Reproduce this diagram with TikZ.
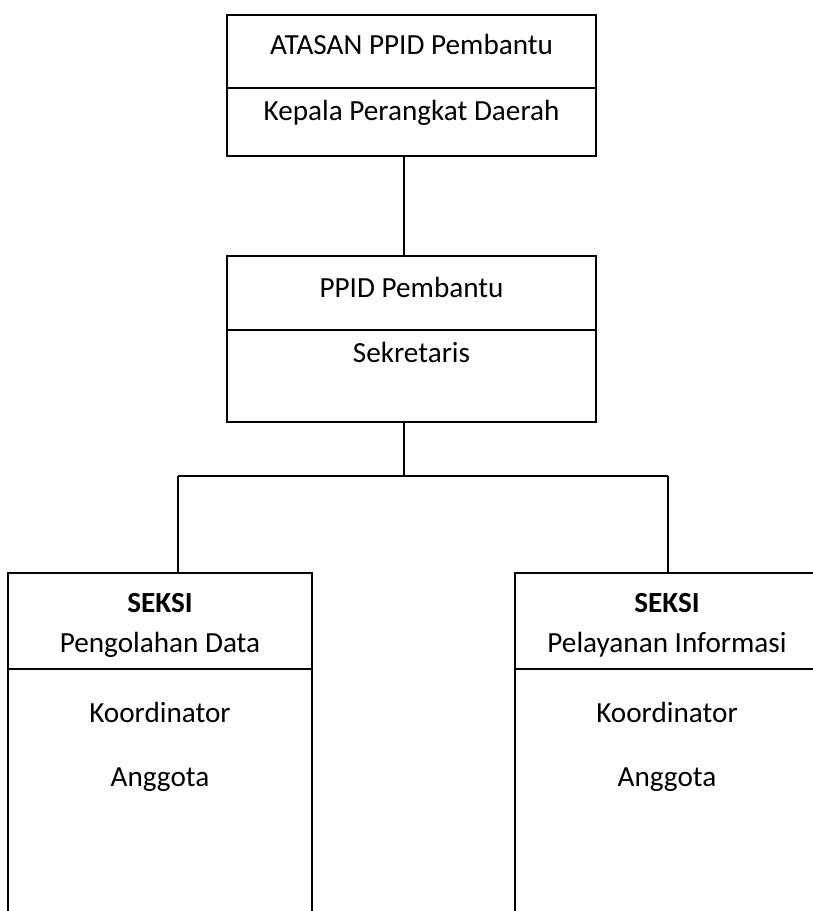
\documentclass[tikz,border=0pt]{standalone}
\usepackage{fontspec}
\setmainfont{Carlito}
\begin{document}
\begin{tikzpicture}[x=0.5pt, y=-0.5pt, font=\fontsize{14.6}{17}\selectfont,
    unitbox/.style={draw, line width=1pt, inner sep=0pt, minimum width=184.5pt},
    seksibox/.style={draw, line width=1pt, inner sep=0pt, minimum width=152pt,
      minimum height=193.5pt},
    divider/.style={line width=1pt},
    link/.style={line width=1pt},
    txt/.style={anchor=base, inner sep=0pt}]
  \useasboundingbox (0,0) rectangle (813,911);
  \clip (0,0) rectangle (813,911);
  % boxes
  \node[unitbox, minimum height=70.5pt] (atasan) at (411.5,85.5) {};
  \node[unitbox, minimum height=83pt] (ppid) at (411.5,339) {};
  \node[seksibox] (olah) at (160,766.5) {};
  \node[seksibox] (layan) at (667,766.5) {};
  \draw[divider] (atasan.west |- 0,88) -- (atasan.east |- 0,88);
  \draw[divider] (ppid.west |- 0,330) -- (ppid.east |- 0,330);
  \draw[divider] (olah.west |- 0,669) -- (olah.east |- 0,669);
  \draw[divider] (layan.west |- 0,669) -- (layan.east |- 0,669);
  % texts
  \node[txt] (atasanA) at (411.5,54) {ATASAN PPID Pembantu};
  \node[txt] (atasanB) at (411.5,120) {Kepala Perangkat Daerah};
  \node[txt] (ppidA) at (411.5,297) {PPID Pembantu};
  \node[txt] (ppidB) at (411.5,362) {Sekretaris};
  \node[txt] (olahA) at (160,612) {\textbf{SEKSI}};
  \node[txt] (olahB) at (160,652) {Pengolahan Data};
  \node[txt] (olahC) at (160,722) {Koordinator};
  \node[txt] (olahD) at (160,786) {Anggota};
  \node[txt] (layanA) at (667,612) {\textbf{SEKSI}};
  \node[txt] (layanB) at (667,652) {Pelayanan Informasi};
  \node[txt] (layanC) at (667,722) {Koordinator};
  \node[txt] (layanD) at (667,786) {Anggota};
  % connectors
  \coordinate (busL) at (178,476);
  \coordinate (busM) at (404,476);
  \coordinate (busR) at (668,476);
  \draw[link] ([xshift=-3.75pt]atasan.south) -- ([xshift=-3.75pt]ppid.north);
  \draw[link] ([xshift=-3.75pt]ppid.south) -- (busM);
  \draw[link] (busL) -- (busR);
  \draw[link] (busL) -- (busL |- olah.north);
  \draw[link] (busR) -- (busR |- layan.north);
\end{tikzpicture}
\end{document}
